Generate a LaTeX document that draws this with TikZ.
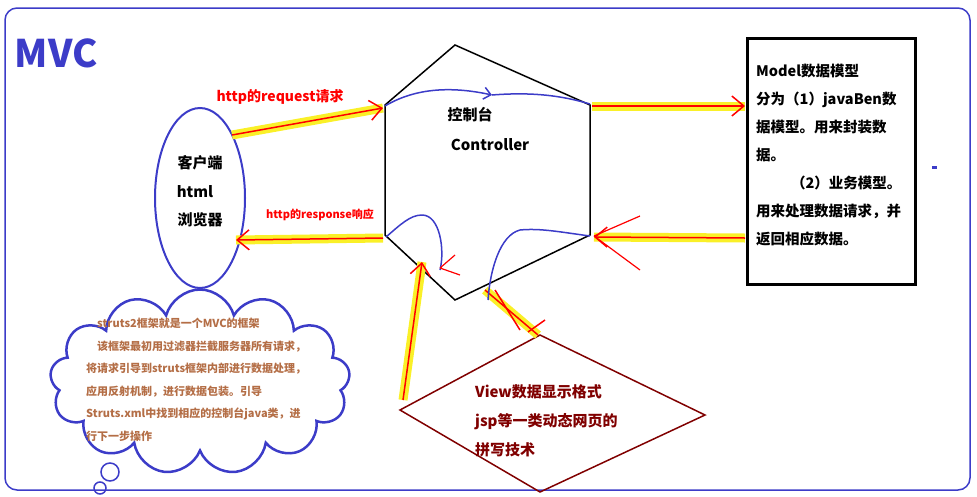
\documentclass[tikz,border=0pt]{standalone}
\usepackage{fontspec}
\setmainfont{Noto Sans CJK SC}
\usetikzlibrary{shapes.geometric,shapes.symbols,arrows.meta}
\definecolor{fblue}{RGB}{60,60,200}
\definecolor{dred}{RGB}{128,0,0}
\definecolor{brn}{RGB}{180,110,70}
\definecolor{hl}{RGB}{250,240,40}
\tikzset{
  hlarrow/.style={line width=9pt,hl},
  redarrow/.style={line width=1.5pt,red,-{Straight Barb[length=12pt,width=20pt]}},
  blu/.style={line width=1.5pt,fblue},
  txt/.style={inner sep=0pt,font=\bfseries},
}
\begin{document}
\begin{tikzpicture}[x=1pt,y=-1pt]
\useasboundingbox (0,0) rectangle (977,496);
\draw[blu,rounded corners=12pt] (5,8) rectangle (970,490);
\node[txt,fblue,font=\bfseries\fontsize{38}{40}\selectfont] (mvc) at (56,53) {MVC};
% hexagon
\coordinate (h1) at (385,105); \coordinate (h2) at (455,45); \coordinate (h3) at (590,105);
\coordinate (h4) at (590,235); \coordinate (h5) at (455,300); \coordinate (h6) at (385,235);
\draw[line width=1.5pt] (h1)--(h2)--(h3)--(h4)--(h5)--(h6)--cycle;
\node[txt,font=\bfseries\fontsize{15}{17}\selectfont] (ctl1) at (470,115) {控制台};
\node[txt,font=\bfseries\fontsize{15}{17}\selectfont] (ctl2) at (490,145) {Controller};
% client
\node[draw=fblue,line width=2pt,ellipse,minimum width=90pt,minimum height=180pt] (cli) at (200,198) {};
\node[txt,font=\bfseries\fontsize{15}{17}\selectfont] at (200,163) {客户端};
\node[txt,font=\bfseries\fontsize{15}{17}\selectfont] at (195,192) {html};
\node[txt,font=\bfseries\fontsize{15}{17}\selectfont] at (200,220) {浏览器};
% model
\draw[line width=3pt] (747,38) rectangle (915,284);
\node[txt,anchor=north west,align=left,font=\bfseries\fontsize{14.5}{28}\selectfont] (model) at (756,64)
 {Model数据模型\\分为（1）javaBen数\\据模型。用来封装数\\据。\\\hspace*{2.4em}（2）业务模型。\\用来处理数据请求，并\\返回相应数据。};
\fill[fblue] (932,166) rectangle (937,169);
% diamond
\coordinate (d1) at (540,335); \coordinate (d2) at (705,415); \coordinate (d3) at (540,492); \coordinate (d4) at (400,410);
\draw[dred,line width=1.5pt] (d1)--(d2)--(d3)--(d4)--cycle;
\node[txt,dred,anchor=north west,align=left,font=\bfseries\fontsize{15}{29}\selectfont] (view) at (475,384)
 {View数据显示格式\\jsp等一类动态网页的\\拼写技术};
% cloud
\node[cloud,draw=fblue,line width=2.5pt,cloud puffs=13,aspect=2.2,minimum width=300pt,minimum height=185pt] (cloud) at (200,382) {};
\node[txt,brn,anchor=north west,align=left,font=\bfseries\fontsize{11}{22.5}\selectfont] (ctext) at (86,318)
 {\hspace*{1em}struts2框架就是一个MVC的框架\\\hspace*{1em}该框架最初用过滤器拦截服务器所有请求，\\将请求引导到struts框架内部进行数据处理，\\应用反射机制，进行数据包装。引导\\Struts.xml中找到相应的控制台java类，进\\行下一步操作};
\draw[blu] (110,472) circle (9pt);
\draw[blu] (100,488) circle (6pt);
% arrows with highlight
\coordinate (a1) at (232,135); \coordinate (a2) at (383,108);
\draw[hlarrow] (a1)--(a2); \draw[redarrow] (a1)--(a2);
\node[txt,red,font=\bfseries\fontsize{14}{16}\selectfont] (req) at (280,97) {http的request请求};
\coordinate (b1) at (592,106); \coordinate (b2) at (745,106);
\draw[hlarrow] (b1)--(b2); \draw[redarrow] (b1)--(b2);
\coordinate (c1) at (745,238); \coordinate (c2) at (594,237);
\draw[hlarrow] (c1)--(c2); \draw[redarrow] (c1)--(c2);
\coordinate (e1) at (383,238); \coordinate (e2) at (236,240);
\draw[hlarrow] (e1)--(e2); \draw[redarrow] (e1)--(e2);
\node[txt,red,font=\bfseries\fontsize{11}{13}\selectfont] (resp) at (320,215) {http的response响应};
\coordinate (f1) at (403,400); \coordinate (f2) at (422,262);
\draw[hlarrow] (f1)--(f2); \draw[redarrow] (f1)--(f2);
\coordinate (g1) at (538,335); \coordinate (g2) at (485,290);
\draw[hlarrow] (g1)--(g2); \draw[red,line width=1.5pt] (g1)--(g2);
\draw[red,line width=1.5pt] (520,330)--(495,290) (528,332)--(545,320);
% blue curves
\draw[blu,-{Straight Barb[length=7pt,width=12pt]}] (385,106) .. controls (420,85) and (460,88) .. (492,95);
\draw[blu] (492,95) .. controls (530,92) and (560,95) .. (590,104);
\draw[blu] (386,237) .. controls (400,225) and (410,215) .. (422,215) .. controls (440,215) and (445,250) .. (440,270);
\draw[blu] (488,300) .. controls (490,270) and (500,235) .. (520,230) .. controls (540,228) and (560,232) .. (590,236);
\draw[red,line width=1.2pt] (594,236)--(640,216) (594,236)--(640,270);
\draw[red,line width=1.2pt] (440,268)--(455,255) (440,268)--(460,275);
\end{tikzpicture}
\end{document}
